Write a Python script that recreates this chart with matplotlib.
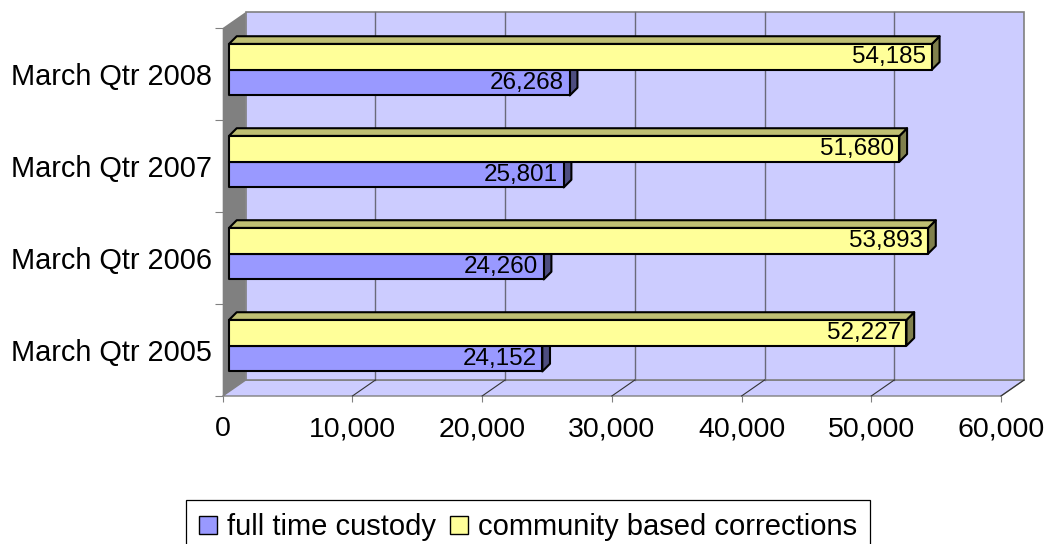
import matplotlib
matplotlib.use("Agg")
import matplotlib.pyplot as plt
from matplotlib.patches import Polygon, Patch

plt.rcParams['font.family'] = ['Liberation Sans', 'DejaVu Sans']

# data
categories = ["March Qtr 2005", "March Qtr 2006", "March Qtr 2007", "March Qtr 2008"]
custody = [24152, 24260, 25801, 26268]
community = [52227, 53893, 51680, 54185]
series_names = ["full time custody", "community based corrections"]
xticks = [0, 10000, 20000, 30000, 40000, 50000, 60000]
xticklabels = ["0", "10,000", "20,000", "30,000", "40,000", "50,000", "60,000"]

W, H = 1049, 544
fig = plt.figure(figsize=(W/100, H/100), dpi=100)
ax = fig.add_axes([222.7/W, (H-396)/H, (1001-222.7)/W, 368/H])
xmax = xticks[-1]
ncat = len(categories)
ax.set_xlim(0, xmax)
ax.set_ylim(0, ncat)

# 3d offsets (data units)
upx = xmax / (1001 - 222.7)   # value units per pixel
upy = ncat / 368.0            # category units per pixel
dx, dy = 23*upx, 16*upy       # wall depth
bx, by = 6.3*upx, 4.3*upy     # bar front face shift
tx, ty = 7.7*upx, 7.7*upy     # bar depth
bh = 0.28                     # bar height

wall = '#CCCCFF'
edge = '#808080'

# floor, side wall, back wall
ax.add_patch(Polygon([(0, 0), (xmax, 0), (xmax+dx, dy), (dx, dy)], closed=True,
                     fc=wall, ec=edge, lw=1, clip_on=False, zorder=1))
ax.add_patch(Polygon([(0, 0), (dx, dy), (dx, ncat+dy), (0, ncat)], closed=True,
                     fc='#808080', ec='none', clip_on=False, zorder=1))
ax.add_patch(Polygon([(dx, dy), (xmax+dx, dy), (xmax+dx, ncat+dy), (dx, ncat+dy)], closed=True,
                     fc=wall, ec=edge, lw=1.2, clip_on=False, zorder=1))

# gridlines on back wall and floor
for v in xticks[1:-1]:
    ax.plot([v+dx, v+dx], [dy, ncat+dy], color='#6a6a7a', lw=1, zorder=2, clip_on=False)
for v in xticks[1:]:
    ax.plot([v, v+dx], [0, dy], color='#333333', lw=0.8, zorder=2, clip_on=False)


def bar3d(v, y0, front, top, side):
    x0 = bx
    x1 = v + bx
    ya = y0 + by
    yb = y0 + bh + by
    ax.add_patch(Polygon([(x1, ya), (x1, yb), (x1+tx, yb+ty), (x1+tx, ya+ty)], closed=True,
                         fc=side, ec='black', lw=1.5, zorder=3, clip_on=False, joinstyle='round'))
    ax.add_patch(Polygon([(x0, yb), (x1, yb), (x1+tx, yb+ty), (x0+tx, yb+ty)], closed=True,
                         fc=top, ec='black', lw=1.5, zorder=3, clip_on=False, joinstyle='round'))
    ax.add_patch(Polygon([(x0, ya), (x1, ya), (x1, yb), (x0, yb)], closed=True,
                         fc=front, ec='black', lw=1.5, zorder=4, clip_on=False, joinstyle='round'))
    ax.annotate(f"{v:,}", (x1, (ya+yb)/2), xytext=(-4, 0), textcoords='offset points',
                ha='right', va='center', fontsize=17.5, zorder=5)


for i in range(ncat):
    bar3d(custody[i], i + 0.5 - bh, '#9999FF', '#7373BF', '#4D4D80')
    bar3d(community[i], i + 0.5, '#FFFF99', '#BFBF73', '#80804D')

for s in ax.spines.values():
    s.set_visible(False)

ax.set_xticks(xticks)
ax.set_xticklabels(xticklabels)
ax.tick_params(axis='x', length=4, color=edge, labelsize=20.5, pad=10.5)
ax.set_yticks(range(ncat+1))
ax.set_yticklabels([])
ax.set_yticks([i + 0.5 for i in range(ncat)], minor=True)
ax.set_yticklabels(categories, minor=True)
ax.tick_params(axis='y', which='major', length=6, color=edge)
ax.tick_params(axis='y', which='minor', length=0, labelsize=20.8, pad=7.5)

handles = [Patch(fc='#9999FF', ec='black', lw=1), Patch(fc='#FFFF99', ec='black', lw=1)]
leg = fig.legend(handles, series_names, loc='upper left', bbox_to_anchor=(186/W, 1-500/H),
                 ncol=2, fontsize=21, frameon=True, fancybox=False, framealpha=1,
                 borderaxespad=0, handlelength=0.6, handleheight=0.6,
                 handletextpad=0.35, columnspacing=0.5, borderpad=0.45)
leg.get_frame().set_edgecolor('black')
leg.get_frame().set_linewidth(0.9)

fig.savefig("out.png", dpi=100)
